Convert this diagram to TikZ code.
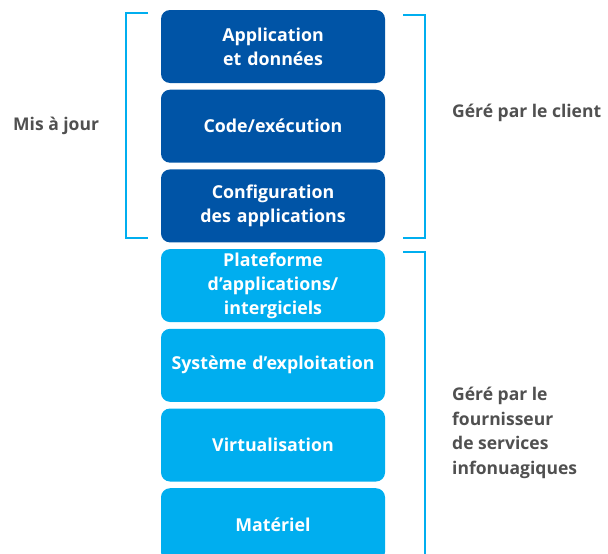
\documentclass[tikz,border=0pt]{standalone}
\usepackage{fontspec}
\setmainfont{Open Sans}
\usepackage{tikz}
\usetikzlibrary{positioning}
\definecolor{darkblue}{RGB}{0,84,166}
\definecolor{lightblue}{RGB}{0,174,239}
\definecolor{labelgray}{RGB}{80,80,80}
\tikzset{node distance=6.3pt,
	layer/.style={
		rounded corners=9pt,
		minimum width=224pt,
		minimum height=73pt,
		text width=220pt,
		align=center,
		text=white,
		font=\fontsize{17.8}{24}\selectfont\bfseries,
		inner sep=0pt
	},
	userlayer/.style={layer, fill=darkblue},
	vendorlayer/.style={layer, fill=lightblue},
	bracket/.style={
		draw=lightblue,
		line width=2.6pt
	},
	sidelabel/.style={
		text=labelgray,
		align=left,
		anchor=west,
		inner sep=0pt,
		font=\fontsize{17.5}{24.5}\selectfont\bfseries
	}
}
\begin{document}
\begin{tikzpicture}
	\useasboundingbox (0pt,0pt) rectangle (608pt,-554pt);

	\node[userlayer] (appdata) at (273pt,-46.5pt) {Application\\et données};
	\node[userlayer, below=of appdata] (runtime) {Code/exécution};
	\node[userlayer, below=of runtime] (appconfig) {Configuration\\des applications};
	\node[vendorlayer, below=of appconfig] (middleware) {Plateforme\\d’applications/\\intergiciels};
	\node[vendorlayer, below=of middleware] (os) {Système d’exploitation};
	\node[vendorlayer, below=of os] (virt) {Virtualisation};
	\node[vendorlayer, below=of virt] (hardware) {Matériel};

	% brackets
	\coordinate (lefttop) at (148pt,-13pt);
	\coordinate (leftbot) at (148pt,-238pt);
	\draw[bracket] (lefttop) -| (126pt,-238pt) -- (leftbot);
	\coordinate (clienttop) at (403pt,-15pt);
	\coordinate (clientbot) at (403pt,-238pt);
	\draw[bracket] (clienttop) -| (425pt,-238pt) -- (clientbot);
	\coordinate (vendortop) at (403pt,-252pt);
	\draw[bracket] (vendortop) -| (425pt,-560pt);

	\node[sidelabel] (updates) at (13pt,-126pt) {Mis à jour};
	\node[sidelabel] (client) at (452pt,-113pt) {Géré par le client};
	\node[sidelabel] (vendor) at (452pt,-433pt) {Géré par le\\fournisseur\\de services\\infonuagiques};
\end{tikzpicture}
\end{document}
